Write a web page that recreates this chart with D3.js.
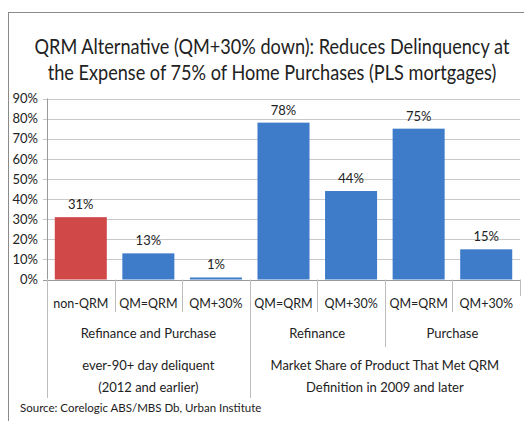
<!DOCTYPE html>
<html>
<head>
<meta charset="utf-8">
<script src="https://cdn.jsdelivr.net/npm/d3@7"></script>
<style>
  body { margin: 0; background: #fff; }
  text { font-family: Lato, "Open Sans", sans-serif; fill: #222; }
</style>
</head>
<body>
<svg id="chart" width="524" height="421"></svg>
<script>
// chart values
const titleLines = ["QRM Alternative (QM+30% down): Reduces Delinquency at", "the Expense of 75% of Home Purchases (PLS mortgages)"];
const titleWidths = [475, 449];
const categories = ["non-QRM", "QM=QRM", "QM+30%", "QM=QRM", "QM+30%", "QM=QRM", "QM+30%"];
const values = [31, 13, 1, 78, 44, 75, 15];
const highlight = [true, false, false, false, false, false, false];
const groupLabels = ["Refinance and Purchase", "Refinance", "Purchase"];
const groupStarts = [0, 3, 5];
const groupEnds = [3, 5, 7];
const topLabels = [["ever-90+ day deliquent", "(2012 and earlier)"], ["Market Share of Product That Met QRM", "Definition in 2009 and later"]];
const topStarts = [0, 3];
const topEnds = [3, 7];
const yTicks = [0, 10, 20, 30, 40, 50, 60, 70, 80, 90];
const source = "Source: Corelogic ABS/MBS Db, Urban Institute";

const svg = d3.select("#chart");
const plot = { left: 47, right: 520, top: 98.5, bottom: 279.5 };

// outer frame
svg.append("rect")
  .attr("x", 8.5).attr("y", 12.5).attr("width", 540).attr("height", 430)
  .attr("fill", "none").attr("stroke", "#8a8a8a");

// title: Lato is wider than the original Calibri, so squeeze horizontally
svg.append("g").selectAll("text").data(titleLines).join("text")
  .attr("text-anchor", "middle")
  .attr("font-size", 20.5)
  .text(d => d)
  .attr("transform", function (d, i) {
    const sx = Math.min(1, titleWidths[i] / this.getComputedTextLength());
    return `translate(272,${54 + i * 26}) scale(${sx},1)`;
  });

const x = d3.scaleBand().domain(d3.range(categories.length))
  .range([plot.left, plot.right]).paddingInner(0.23).paddingOuter(0.115);
const step = (plot.right - plot.left) / categories.length;
const edge = i => plot.left + i * step;
const y = d3.scaleLinear().domain([0, 90]).range([plot.bottom, plot.top]);

// y labels
const yAxis = d3.axisLeft(y).tickValues(yTicks).tickFormat(d => d + "%").tickSize(0).tickPadding(4);
svg.append("g")
  .attr("transform", `translate(${plot.left - 4},0)`)
  .call(yAxis)
  .call(g => g.select(".domain").remove())
  .call(g => g.selectAll("text").attr("font-size", 13).attr("fill", "#222")
    .attr("font-family", "Lato, sans-serif").attr("dx", -1));

// gridlines
svg.append("g").selectAll("line").data(yTicks).join("line")
  .attr("x1", plot.left - 4).attr("x2", plot.right)
  .attr("y1", d => Math.round(y(d)) + 0.5).attr("y2", d => Math.round(y(d)) + 0.5)
  .attr("stroke", d => d === 0 ? "#9a9a9a" : "#c9c9c9");

// value axis line
svg.append("line")
  .attr("x1", plot.left + 0.5).attr("x2", plot.left + 0.5)
  .attr("y1", plot.top).attr("y2", plot.bottom)
  .attr("stroke", "#9a9a9a");

// bars
svg.append("g").selectAll("rect").data(values).join("rect")
  .attr("x", (d, i) => x(i))
  .attr("y", d => y(d))
  .attr("width", x.bandwidth())
  .attr("height", d => y(0) - y(d))
  .attr("fill", (d, i) => highlight[i] ? "#d04848" : "#3e7cca");

// value labels
svg.append("g").selectAll("text").data(values).join("text")
  .attr("x", (d, i) => x(i) + x.bandwidth() / 2)
  .attr("y", d => y(d) - 8)
  .attr("text-anchor", "middle")
  .attr("font-size", 13)
  .text(d => d + "%");

// multi-level category axis
const sep = svg.append("g").attr("stroke", "#bdbdbd");
d3.range(categories.length + 1).forEach(i => {
  let bottom = 312;
  if (groupStarts.includes(i) || groupEnds.includes(i)) bottom = 347;
  if (topStarts.includes(i) || (topEnds.includes(i) && i < categories.length)) bottom = 398;
  if (i === categories.length) bottom = 296;
  sep.append("line")
    .attr("x1", Math.round(edge(i)) + 0.5).attr("x2", Math.round(edge(i)) + 0.5)
    .attr("y1", plot.bottom).attr("y2", bottom);
});

svg.append("g").selectAll("text").data(categories).join("text")
  .attr("x", (d, i) => x(i) + x.bandwidth() / 2)
  .attr("y", 308)
  .attr("text-anchor", "middle")
  .attr("font-size", 12.5)
  .text(d => d);

svg.append("g").selectAll("text").data(groupLabels).join("text")
  .attr("x", (d, i) => (edge(groupStarts[i]) + edge(groupEnds[i])) / 2)
  .attr("y", 338)
  .attr("text-anchor", "middle")
  .attr("font-size", 13)
  .text(d => d);

topLabels.forEach((lines, i) => {
  svg.append("g").selectAll("text").data(lines).join("text")
    .attr("x", (edge(topStarts[i]) + edge(topEnds[i])) / 2)
    .attr("y", (d, j) => 370 + j * 22)
    .attr("text-anchor", "middle")
    .attr("font-size", 13)
    .text(d => d);
});

svg.append("text")
  .attr("x", 20).attr("y", 412)
  .attr("font-size", 11.5)
  .text(source);
</script>
</body>
</html>
